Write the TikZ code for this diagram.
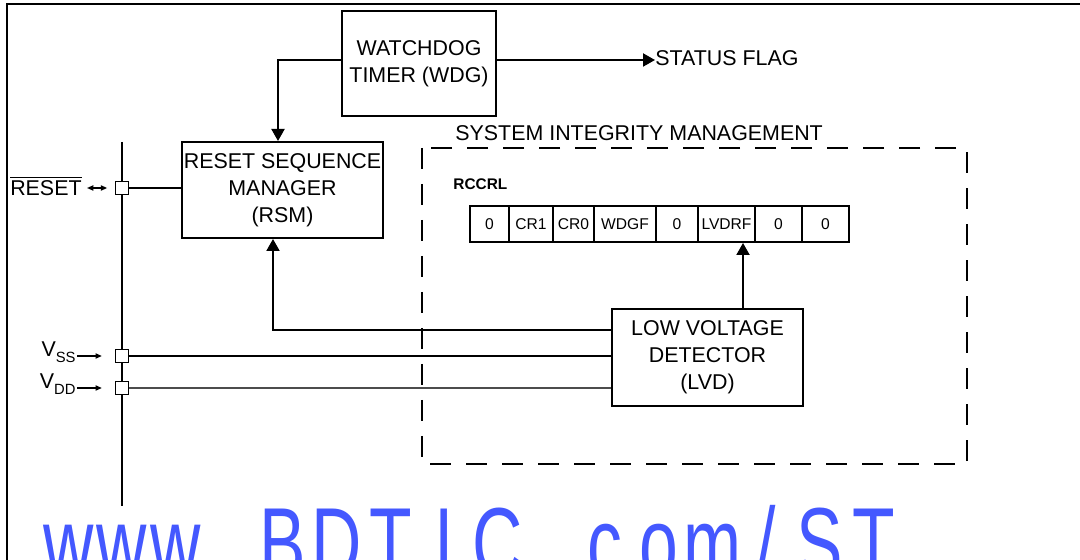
\documentclass[tikz,border=0pt]{standalone}
\usepackage{fontspec}
\setmainfont{Liberation Sans}
\usetikzlibrary{arrows.meta}
\definecolor{wmblue}{RGB}{68,88,255}
\newcommand\wmchar[1]{\makebox[26.85pt][c]{\scalebox{0.69}[1]{#1}}}
\begin{document}
\begin{tikzpicture}[x=0.5pt,y=-0.5pt,
  box/.style={draw,line width=1pt,inner sep=0pt,align=center,font=\fontsize{10.7}{13.5}\selectfont},
  cell/.style={draw,line width=1pt,inner sep=0pt,minimum height=18pt,font=\fontsize{7.8}{9}\selectfont},
  wire/.style={line width=1pt},
  thinwire/.style={line width=0.6pt,black!70},
  arr/.style={line width=1pt,-{Triangle[length=6pt,width=6.5pt]}},
  pin/.style={draw,fill=white,line width=0.8pt,minimum size=6.5pt,inner sep=0pt},
  lbl/.style={inner sep=0pt,font=\fontsize{10.7}{13.5}\selectfont},
  smallarr/.style={line width=0.7pt,-{Triangle[length=3.2pt,width=2.6pt]}},
  dblarr/.style={line width=0.7pt,{Triangle[length=3.2pt,width=2.6pt]}-{Triangle[length=3.2pt,width=2.6pt]}},
]
\useasboundingbox (0,0) rectangle (1080,560);
% frame
\draw[line width=1.2pt] (1080,4) -- (7,4) -- (7,560);
% watermark
\begin{scope}
\clip (0,0) rectangle (1080,560);
\node[anchor=base west,inner sep=0pt,text=wmblue,font=\fontsize{50.5}{60}\selectfont] (wm) at (41,578) {\wmchar{w}\wmchar{w}\wmchar{w}\wmchar{.}\wmchar{B}\wmchar{D}\wmchar{T}\wmchar{I}\wmchar{C}\wmchar{.}\wmchar{c}\wmchar{o}\wmchar{m}\wmchar{/}\wmchar{S}\wmchar{T}};
\end{scope}
% blocks
\node[box,minimum width=77pt,minimum height=52.5pt] (wdg) at (419,63.5) {WATCHDOG\\TIMER (WDG)};
\node[box,minimum width=100.5pt,minimum height=48pt] (rsm) at (282.5,190) {RESET SEQUENCE\\MANAGER\\(RSM)};
\node[box,minimum width=95.5pt,minimum height=48.5pt] (lvd) at (707.5,357.5) {LOW VOLTAGE\\DETECTOR\\(LVD)};
\node[lbl,anchor=west] (status) at (655,58) {STATUS FLAG};
% system integrity management
\draw[line width=1pt,dash pattern=on 10.5pt off 7.5pt] (422,148) rectangle (967,464);
\node[lbl,anchor=west] (simt) at (455,133) {SYSTEM INTEGRITY MANAGEMENT};
\node[inner sep=0pt,anchor=west,font=\bfseries\fontsize{7.7}{9}\selectfont] (rccrl) at (453,184) {RCCRL};
% register
\node[cell,minimum width=19.5pt] (c1) at (489.5,224) {0};
\node[cell,minimum width=22pt] (c2) at (531,224) {CR1};
\node[cell,minimum width=20.5pt] (c3) at (573.5,224) {CR0};
\node[cell,minimum width=31pt] (c4) at (625,224) {WDGF};
\node[cell,minimum width=21pt] (c5) at (677,224) {0};
\node[cell,minimum width=28.5pt] (c6) at (726.5,224) {LVDRF};
\node[cell,minimum width=23.5pt] (c7) at (778.5,224) {0};
\node[cell,minimum width=23.5pt] (c8) at (825.5,224) {0};
% bus
\coordinate (bt) at (122,142);
\coordinate (bb) at (122,506);
\draw[wire] (bt) -- (bb);
\node[pin] (p1) at (122,188) {};
\node[pin] (p2) at (122,356) {};
\node[pin] (p3) at (122,388) {};
% connections
\draw[arr] ([yshift=1.75pt]wdg.west) -| ([xshift=-2.25pt]rsm.north);
\draw[arr] ([yshift=1.75pt]wdg.east) -- ([yshift=1.75pt]wdg.east -| status.west);
\draw[wire] (p1.east) -- (p1.east -| rsm.west);
\draw[wire] (p2.east) -- (p2.east -| lvd.west);
\draw[thinwire] (p3.east) -- (p3.east -| lvd.west);
\coordinate (j) at (273,330);
\draw[arr] (j -| lvd.west) -- (j) -- (j |- rsm.south);
\coordinate (u) at (743,300);
\draw[arr] (u |- lvd.north) -- (u |- c6.south);
% pin labels
\node[lbl,anchor=base east] (rst) at (82,195.5) {$\overline{\mbox{RESET}}$};
\draw[dblarr] ([xshift=2.5pt]rst.east |- p1) -- ([xshift=-3.75pt]p1.west);
\node[lbl,anchor=base east] (vss) at (76,357) {V\raisebox{-3pt}{\fontsize{7.4}{8}\selectfont SS}};
\draw[smallarr] ([xshift=0.5pt]vss.east |- p2) -- ([xshift=-6.4pt]p2.west);
\node[lbl,anchor=base east] (vdd) at (76,389) {V\raisebox{-3pt}{\fontsize{7.4}{8}\selectfont DD}};
\draw[smallarr] ([xshift=0.5pt]vdd.east |- p3) -- ([xshift=-6.4pt]p3.west);
\end{tikzpicture}
\end{document}
